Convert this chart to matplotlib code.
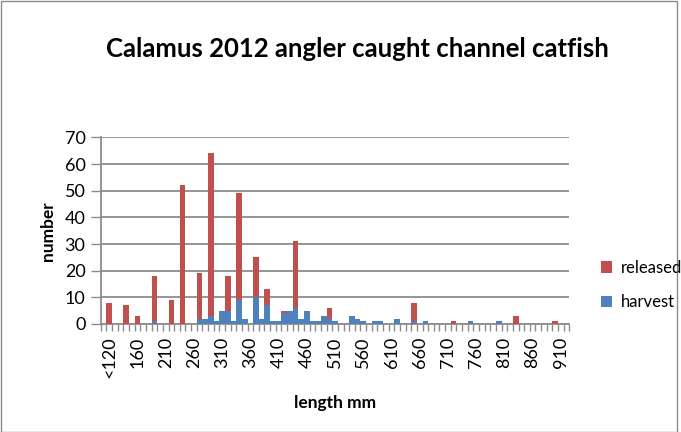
import matplotlib
matplotlib.use("Agg")
import matplotlib.pyplot as plt
import numpy as np

plt.rcParams['font.family'] = ['Lato', 'DejaVu Sans']

# length classes (10 mm bins); first slot is an empty class
categories = [""] + ["<120"] + [str(100 + 10 * k) for k in range(2, 83)]

released = [0, 8, 0, 0, 7, 0, 3, 0, 0, 17,
            0, 0, 9, 0, 52, 0, 0, 17, 0, 61,
            0, 0, 13, 0, 40, 0, 0, 15, 0, 6,
            0, 0, 1, 0, 25, 0, 0, 0, 0, 0,
            4, 0, 0, 0, 0, 0, 0, 0, 0, 0,
            0, 0, 0, 0, 0, 7, 0, 0, 0, 0,
            0, 0, 1, 0, 0, 0, 0, 0, 0, 0,
            0, 0, 0, 3, 0, 0, 0, 0, 0, 0,
            1, 0, 0]

harvest = [0, 0, 0, 0, 0, 0, 0, 0, 0, 1,
           0, 0, 0, 0, 0, 0, 0, 2, 2, 3,
           1, 5, 5, 1, 9, 2, 0, 10, 2, 7,
           1, 1, 4, 5, 6, 2, 5, 1, 1, 3,
           2, 1, 0, 0, 3, 2, 1, 0, 1, 1,
           0, 0, 2, 0, 0, 1, 0, 1, 0, 0,
           0, 0, 0, 0, 0, 1, 0, 0, 0, 0,
           1, 0, 0, 0, 0, 0, 0, 0, 0, 0,
           0, 0, 0]

red = '#C0504D'
blue = '#4F81BD'

fig = plt.figure(figsize=(6.81, 4.32), dpi=100)
ax = fig.add_axes([0.148, 0.25, 0.688, 0.432])

x = np.arange(len(categories))
ax.bar(x, harvest, width=1.0, color=blue, label='harvest', zorder=3)
ax.bar(x, released, width=1.0, bottom=harvest, color=red, label='released', zorder=3)

ax.set_xlim(-0.5, len(categories) - 0.5)
ax.set_ylim(0, 70)
ax.set_yticks(range(0, 71, 10))
ax.yaxis.grid(True, color='#8c8c8c', linewidth=1.3, zorder=0)
ax.set_axisbelow(True)

lab_idx = list(range(1, len(categories), 5))
ax.set_xticks(lab_idx)
ax.set_xticklabels([categories[i] for i in lab_idx], rotation=90, fontsize=13)
ax.set_xticks(np.arange(-0.5, len(categories)), minor=True)
ax.tick_params(axis='x', which='major', length=0, pad=9)
ax.tick_params(axis='x', which='minor', length=5, color='#8c8c8c', width=1)
ax.tick_params(axis='y', length=7, color='#8c8c8c', width=1, labelsize=13, pad=4)

for s in ['top', 'right']:
    ax.spines[s].set_visible(False)
for s in ['left', 'bottom']:
    ax.spines[s].set_color('#8c8c8c')
    ax.spines[s].set_linewidth(1.3)

ax.set_ylabel('number', fontsize=12.5, fontweight='bold', labelpad=6)
ax.set_xlabel('length mm', fontsize=12.5, fontweight='bold', labelpad=12)

fig.text(0.525, 0.887, 'Calamus 2012 angler caught channel catfish',
         ha='center', va='center', fontsize=18.5, fontweight='bold')

handles, labels = ax.get_legend_handles_labels()
fig.legend(handles[::-1], labels[::-1], loc='center left',
           bbox_to_anchor=(0.86, 0.34), frameon=False, fontsize=12,
           handlelength=0.7, handleheight=0.7, handletextpad=0.5, labelspacing=1.1)

fig.patches.append(plt.Rectangle((0.001, 0.001), 0.993, 0.997, transform=fig.transFigure,
                                 fill=False, edgecolor='#8c8c8c', linewidth=1))

fig.savefig('out.png', dpi=100)
